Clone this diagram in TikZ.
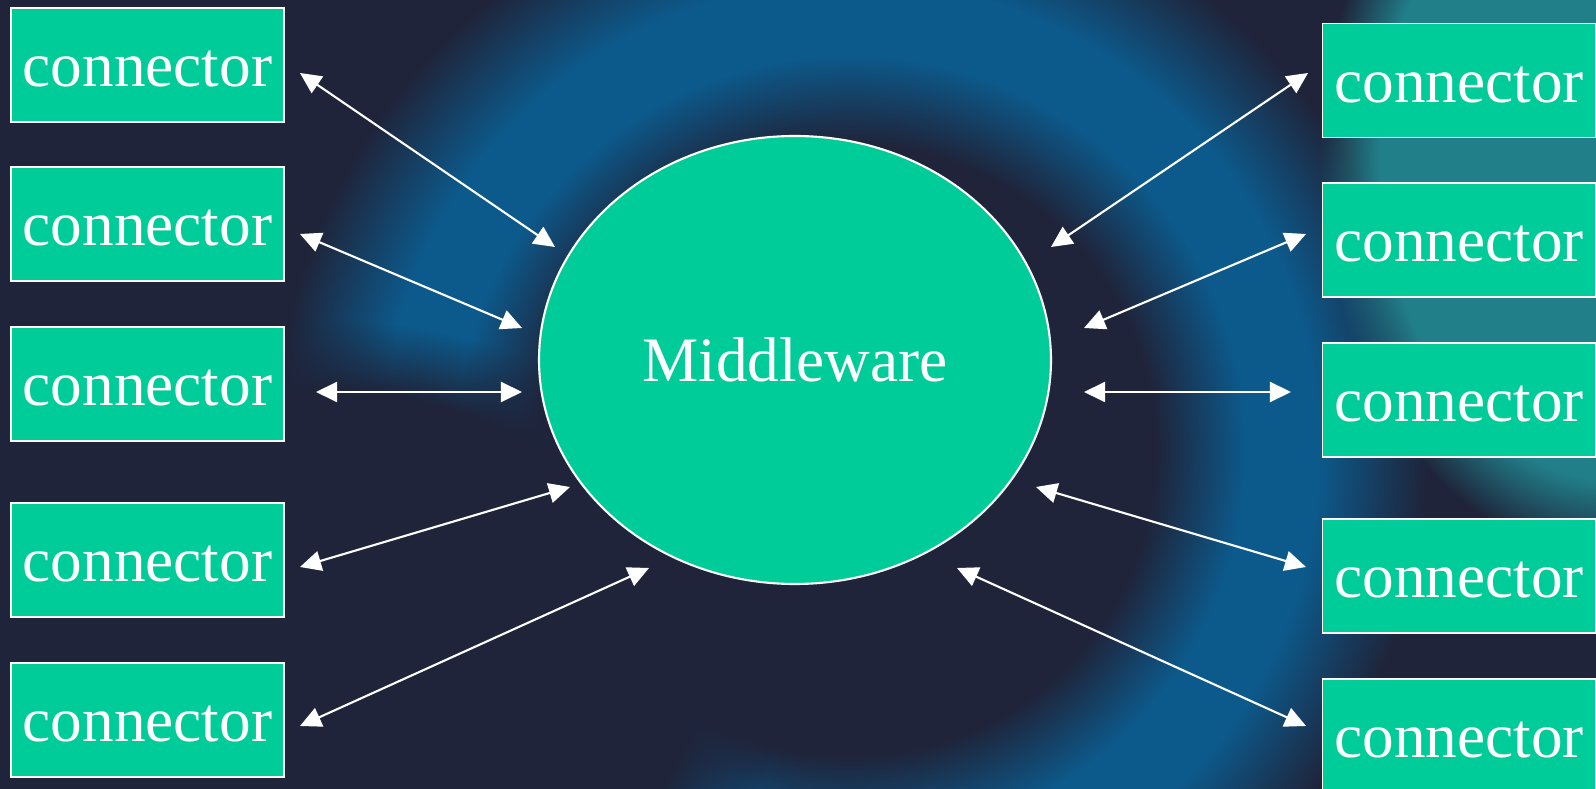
\documentclass[tikz,border=0pt]{standalone}
\usepackage{fontspec}
\setmainfont{Liberation Serif}
\usetikzlibrary{arrows.meta,shapes.geometric,fadings}

\definecolor{bgdark}{RGB}{31,36,58}
\definecolor{bgblue}{RGB}{12,90,140}
\definecolor{bgteal}{RGB}{34,150,158}
\definecolor{boxgreen}{RGB}{0,204,153}

\pgfdeclareradialshading{glow}{\pgfpoint{0bp}{0bp}}{color(0bp)=(bgdark); color(8.5bp)=(bgdark); color(11bp)=(bgblue); color(13bp)=(bgblue); color(16bp)=(bgdark); color(25bp)=(bgdark)}

\begin{document}
\begin{tikzpicture}[
		conn/.style={rectangle,draw=white,line width=0.5pt,fill=boxgreen,text=white,
			minimum width=2.73cm,minimum height=1.14cm,inner sep=0pt,
			text height=12.5pt,text depth=0pt,font=\fontsize{18}{20}\selectfont},
		link/.style={white,line width=0.6pt,{Triangle[length=6pt,width=5.7pt]}-{Triangle[length=6pt,width=5.7pt]}}]
		\useasboundingbox (0,0) rectangle (15.96,-7.89);
		% background
		\fill[bgdark] (0,0) rectangle (15.96,-7.89);
		\begin{scope}
			\clip (0,0) rectangle (15.96,-7.89);
			\shade[shading=glow] (8.5,-4.5) circle (9);
			\fill[bgdark,path fading=circle with fuzzy edge 20 percent] (3.2,-6.8) ellipse (4.6 and 3.6);
			\fill[bgteal,path fading=circle with fuzzy edge 20 percent,opacity=0.8] (16.2,-1.6) ellipse (3.0 and 4.0);
		\end{scope}
		% middle
		\node[ellipse,draw=white,line width=0.6pt,fill=boxgreen,text=white,
			minimum width=5.12cm,minimum height=4.48cm,inner sep=0pt,
			font=\fontsize{18}{20}\selectfont] (mw) at (7.95,-3.60) {Middleware};
		% left side
		\node[conn] (l1) at (1.475,-0.65) {connector};
		\node[conn] (l2) at (1.475,-2.24) {connector};
		\node[conn] (l3) at (1.475,-3.84) {connector};
		\node[conn] (l4) at (1.475,-5.60) {connector};
		\node[conn] (l5) at (1.475,-7.20) {connector};
		% right side
		\node[conn] (r1) at (14.59,-0.805) {connector};
		\node[conn] (r2) at (14.59,-2.40) {connector};
		\node[conn] (r3) at (14.59,-4.00) {connector};
		\node[conn] (r4) at (14.59,-5.76) {connector};
		\node[conn] (r5) at (14.59,-7.36) {connector};
		% arrow ends
		\coordinate (la1) at (3.00,-0.73); \coordinate (lb1) at (5.55,-2.47);
		\coordinate (la2) at (3.00,-2.34); \coordinate (lb2) at (5.22,-3.28);
		\coordinate (la3) at (3.16,-3.92); \coordinate (lb3) at (5.22,-3.92);
		\coordinate (la4) at (3.00,-5.67); \coordinate (lb4) at (5.70,-4.87);
		\coordinate (la5) at (3.00,-7.26); \coordinate (lb5) at (6.49,-5.68);
		\coordinate (ra1) at (13.08,-0.73); \coordinate (rb1) at (10.51,-2.47);
		\coordinate (ra2) at (13.06,-2.34); \coordinate (rb2) at (10.84,-3.28);
		\coordinate (ra3) at (12.91,-3.92); \coordinate (rb3) at (10.84,-3.92);
		\coordinate (ra4) at (13.06,-5.67); \coordinate (rb4) at (10.36,-4.87);
		\coordinate (ra5) at (13.06,-7.26); \coordinate (rb5) at (9.57,-5.68);
		% arrows
		\draw[link] (la1) -- (lb1);
		\draw[link] (la2) -- (lb2);
		\draw[link] (la3) -- (lb3);
		\draw[link] (la4) -- (lb4);
		\draw[link] (la5) -- (lb5);
		\draw[link] (rb1) -- (ra1);
		\draw[link] (rb2) -- (ra2);
		\draw[link] (rb3) -- (ra3);
		\draw[link] (rb4) -- (ra4);
		\draw[link] (rb5) -- (ra5);
	\end{tikzpicture}
\end{document}
